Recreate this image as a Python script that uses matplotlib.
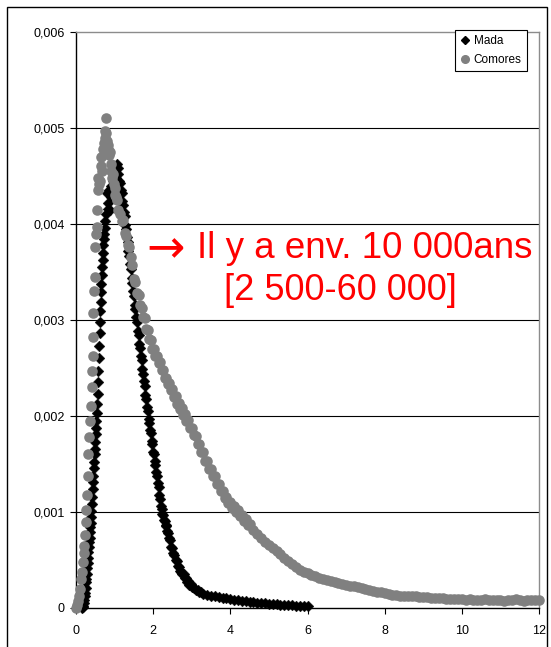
import matplotlib
matplotlib.use("Agg")
import matplotlib.pyplot as plt
from matplotlib.lines import Line2D
from matplotlib.patches import Rectangle
import numpy as np

plt.rcParams['font.family'] = ['Liberation Sans', 'DejaVu Sans']

# ---------------- data (y values in units of 1e-3) ----------------
mada_x = [
    0.15, 0.17, 0.19, 0.21, 0.22, 0.23, 0.24, 0.25, 0.26, 0.27, 0.28, 0.29, 0.30, 0.31, 0.32, 0.33,
    0.34, 0.35, 0.36, 0.37, 0.38, 0.39, 0.40, 0.41, 0.42, 0.43, 0.44, 0.45, 0.46, 0.47, 0.48, 0.49,
    0.50, 0.51, 0.52, 0.53, 0.54, 0.55, 0.56, 0.57, 0.58, 0.59, 0.60, 0.61, 0.62, 0.63, 0.64, 0.65,
    0.66, 0.67, 0.68, 0.69, 0.70, 0.71, 0.72, 0.73, 0.74, 0.76, 0.78, 0.80, 0.82, 0.84, 0.86, 0.88,
    0.90, 0.92, 0.94, 0.96, 0.98, 1.00, 1.02, 1.04, 1.06, 1.08,
    1.10, 1.12, 1.14, 1.16, 1.18, 1.20, 1.22, 1.24, 1.26, 1.28, 1.30, 1.32, 1.34, 1.36, 1.38, 1.40,
    1.42, 1.44, 1.46, 1.48, 1.50, 1.52, 1.54, 1.56, 1.58, 1.60, 1.62, 1.64, 1.66, 1.68, 1.70, 1.72,
    1.74, 1.76, 1.78, 1.80, 1.82, 1.84, 1.86, 1.88, 1.90, 1.92, 1.94, 1.96, 1.98, 2.00, 2.02, 2.04,
    2.06, 2.08, 2.10, 2.12, 2.14, 2.16, 2.18, 2.20, 2.22, 2.24, 2.26, 2.28, 2.30, 2.32, 2.34, 2.36,
    2.38, 2.40, 2.43, 2.46, 2.49, 2.52, 2.55, 2.58, 2.61, 2.64, 2.67, 2.70, 2.73, 2.76, 2.79, 2.82,
    2.85, 2.88, 2.91, 2.94, 2.97, 3.00, 3.05, 3.10, 3.15, 3.20, 3.25, 3.30, 3.40, 3.50, 3.60, 3.70,
    3.80, 3.90, 4.00, 4.10, 4.20, 4.30, 4.40, 4.50, 4.60, 4.70, 4.80, 4.90, 5.00, 5.10, 5.20, 5.30,
    5.40, 5.50, 5.60, 5.70, 5.80, 5.90, 6.00,
]
mada_y = [
    0.00, 0.01, 0.02, 0.05, 0.08, 0.12, 0.16, 0.21, 0.27, 0.30, 0.35, 0.42, 0.47, 0.52, 0.58, 0.64,
    0.69, 0.73, 0.79, 0.84, 0.89, 0.95, 1.01, 1.08, 1.16, 1.24, 1.31, 1.38, 1.46, 1.52, 1.60, 1.66,
    1.73, 1.81, 1.88, 1.95, 2.03, 2.12, 2.23, 2.35, 2.47, 2.60, 2.73, 2.86, 2.98, 3.09, 3.19, 3.29,
    3.38, 3.47, 3.55, 3.63, 3.70, 3.78, 3.84, 3.90, 3.96, 4.03, 4.10, 4.32, 4.16, 4.22, 4.35, 4.15,
    4.28, 4.40, 4.33, 4.45, 4.38, 4.50, 4.55, 4.48, 4.62, 4.58,
    4.52, 4.45, 4.43, 4.35, 4.32, 4.24, 4.20, 4.12, 4.08, 3.99, 3.95, 3.86, 3.81, 3.72, 3.67, 3.58,
    3.53, 3.44, 3.39, 3.30, 3.25, 3.16, 3.11, 3.03, 2.98, 2.89, 2.84, 2.75, 2.71, 2.62, 2.58, 2.49,
    2.44, 2.36, 2.31, 2.22, 2.18, 2.09, 2.05, 1.97, 1.93, 1.85, 1.82, 1.74, 1.71, 1.63, 1.60, 1.53,
    1.49, 1.42, 1.38, 1.30, 1.26, 1.18, 1.14, 1.06, 1.03, 0.98, 0.97, 0.92, 0.91, 0.86, 0.85, 0.80,
    0.78, 0.73, 0.71, 0.64, 0.62, 0.57, 0.55, 0.50, 0.49, 0.44, 0.43, 0.39, 0.38, 0.35, 0.35, 0.31,
    0.31, 0.27, 0.28, 0.24, 0.25, 0.22, 0.21, 0.19, 0.19, 0.17, 0.17, 0.15, 0.14, 0.13, 0.12, 0.11,
    0.10, 0.10, 0.09, 0.08, 0.08, 0.07, 0.07, 0.06, 0.06, 0.05, 0.05, 0.05, 0.04, 0.04, 0.04, 0.03,
    0.03, 0.03, 0.03, 0.02, 0.02, 0.02, 0.02,
]

comores_x = [
    0.01, 0.03, 0.05, 0.08, 0.10, 0.13, 0.15, 0.18, 0.20, 0.22, 0.24, 0.26, 0.27, 0.28, 0.30, 0.31,
    0.33, 0.36, 0.38, 0.41, 0.42, 0.43, 0.44, 0.45, 0.46, 0.48, 0.49, 0.52, 0.54, 0.55, 0.57, 0.58,
    0.60, 0.62, 0.64, 0.66, 0.68, 0.70, 0.72, 0.74, 0.76, 0.78, 0.79, 0.80, 0.82, 0.84, 0.86, 0.88,
    0.90, 0.92, 0.94, 0.96, 0.98, 1.00, 1.02, 1.04, 1.06,
    1.10, 1.14, 1.18, 1.22, 1.26, 1.30, 1.34, 1.38, 1.42, 1.46, 1.50, 1.54, 1.58, 1.62, 1.66, 1.70,
    1.74, 1.78, 1.82, 1.86, 1.90, 1.94, 1.98, 2.02, 2.06, 2.10, 2.14, 2.18, 2.22, 2.26, 2.30, 2.34,
    2.38, 2.42, 2.46, 2.50, 2.54, 2.58, 2.62, 2.66, 2.70, 2.74, 2.78, 2.82, 2.86, 2.90, 2.95, 3.00,
    3.05, 3.10, 3.15, 3.20, 3.25, 3.30, 3.35, 3.40, 3.45, 3.50, 3.55, 3.60, 3.65, 3.70, 3.75, 3.80,
    3.85, 3.90, 3.95, 4.00, 4.05, 4.10, 4.15, 4.20, 4.25, 4.30, 4.35, 4.40, 4.45, 4.50, 4.60, 4.70,
    4.80, 4.90, 5.00, 5.10, 5.20, 5.30, 5.40, 5.50, 5.60, 5.70, 5.80, 5.90, 6.00, 6.10, 6.20, 6.30,
    6.40, 6.50, 6.60, 6.70, 6.80, 6.90, 7.00, 7.10, 7.20, 7.30, 7.40, 7.50, 7.60, 7.70, 7.80, 7.90,
    8.00, 8.10, 8.20, 8.30, 8.40, 8.50, 8.60, 8.70, 8.80, 8.90, 9.00, 9.10, 9.20, 9.30, 9.40, 9.50,
    9.60, 9.70, 9.80, 9.90, 10.0, 10.1, 10.2, 10.3, 10.4, 10.5, 10.6, 10.7, 10.8, 10.9, 11.0, 11.1,
    11.2, 11.3, 11.4, 11.5, 11.6, 11.7, 11.8, 11.9, 12.0,
]
comores_y = [
    0.00, 0.03, 0.07, 0.13, 0.20, 0.30, 0.37, 0.48, 0.57, 0.65, 0.76, 0.90, 1.02, 1.18, 1.38, 1.60,
    1.78, 1.95, 2.10, 2.30, 2.47, 2.62, 2.82, 3.07, 3.30, 3.45, 3.76, 3.90, 3.97, 4.15, 4.35, 4.48,
    4.42, 4.45, 4.60, 4.70, 4.55, 4.78, 4.84, 4.90, 4.97, 5.10, 4.95, 4.86, 4.82, 4.78, 4.72, 4.75,
    4.62, 4.55, 4.48, 4.52, 4.42, 4.38, 4.30, 4.28, 4.25,
    4.15, 4.10, 4.03, 4.04, 3.91, 3.88, 3.78, 3.76, 3.66, 3.57, 3.43, 3.40, 3.28, 3.26, 3.16, 3.12,
    3.03, 3.02, 2.91, 2.90, 2.80, 2.79, 2.70, 2.70, 2.62, 2.62, 2.55, 2.56, 2.48, 2.48, 2.40, 2.40,
    2.33, 2.34, 2.27, 2.28, 2.20, 2.21, 2.13, 2.14, 2.07, 2.08, 2.01, 2.02, 1.95, 1.96, 1.88, 1.88,
    1.80, 1.79, 1.71, 1.71, 1.62, 1.62, 1.53, 1.53, 1.45, 1.45, 1.37, 1.37, 1.29, 1.29, 1.22, 1.22,
    1.15, 1.16, 1.09, 1.10, 1.04, 1.06, 1.00, 1.02, 0.96, 0.97, 0.91, 0.93, 0.86, 0.88, 0.81, 0.77,
    0.73, 0.69, 0.66, 0.62, 0.59, 0.56, 0.52, 0.49, 0.46, 0.43, 0.40, 0.38, 0.36, 0.34, 0.33, 0.31,
    0.30, 0.29, 0.28, 0.27, 0.26, 0.25, 0.24, 0.23, 0.23, 0.22, 0.21, 0.20, 0.19, 0.18, 0.17, 0.17,
    0.16, 0.15, 0.14, 0.14, 0.13, 0.13, 0.12, 0.12, 0.12, 0.11, 0.11, 0.11, 0.10, 0.10, 0.10, 0.10,
    0.09, 0.09, 0.09, 0.09, 0.09, 0.08, 0.09, 0.08, 0.08, 0.08, 0.09, 0.08, 0.08, 0.08, 0.08, 0.07,
    0.08, 0.08, 0.09, 0.08, 0.07, 0.08, 0.08, 0.08, 0.08,
]

series_names = ["Mada", "Comores"]
x_ticks = [0, 2, 4, 6, 8, 10, 12]
x_tick_labels = ["0", "2", "4", "6", "8", "10", "12"]
y_ticks = [0, 0.001, 0.002, 0.003, 0.004, 0.005, 0.006]
y_tick_labels = ["0", "0,001", "0,002", "0,003", "0,004", "0,005", "0,006"]
note_arrow = "\u2192"
note_line1 = "Il y a env. 10 000ans"
note_line2 = "[2 500-60 000]"

mada_vals = np.array(mada_y) * 1e-3
comores_vals = np.array(comores_y) * 1e-3

# ---------------- figure ----------------
W, H = 551, 647
fig = plt.figure(figsize=(W / 100, H / 100), dpi=100)
fig.patch.set_facecolor("white")

# outer chart border (bottom lies below the picture)
fig.patches.append(Rectangle((7 / W, -0.05), (547 - 7) / W, 1.05 - 7 / H,
                             transform=fig.transFigure, fill=False,
                             edgecolor="black", linewidth=1.0))

ax = fig.add_axes([76 / W, (647 - 608) / H, (539 - 76) / W, (608 - 32) / H])
ax.set_xlim(0, 12)
ax.set_ylim(0, 0.006)

for yv in y_ticks[1:-1]:
    ax.axhline(yv, color="black", linewidth=0.8, zorder=1)

ax.spines["top"].set_color("#8c8c8c")
ax.spines["right"].set_color("#8c8c8c")
ax.spines["left"].set_color("black")
ax.spines["bottom"].set_color("black")
for s in ax.spines.values():
    s.set_linewidth(1.0)

ax.scatter(mada_x, mada_vals, marker="D", s=30, color="black",
           linewidths=0.3, edgecolors="black", zorder=3, clip_on=False)
ax.scatter(comores_x, comores_vals, marker="o", s=58, color="#808080",
           linewidths=0, zorder=4, clip_on=False)

ax.set_xticks(x_ticks)
ax.set_xticklabels(x_tick_labels)
ax.set_yticks(y_ticks)
ax.set_yticklabels(y_tick_labels)
ax.tick_params(axis="both", direction="out", length=4, width=0.8,
               labelsize=9, colors="black", pad=3)
ax.tick_params(axis="x", pad=8)
ax.tick_params(axis="y", pad=4)

handles = [
    Line2D([], [], marker="D", linestyle="none", color="black", markersize=4.2),
    Line2D([], [], marker="o", linestyle="none", color="#808080", markersize=5.5),
]
leg = ax.legend(handles, series_names, loc="upper right",
                bbox_to_anchor=(0.974, 1.0035), borderaxespad=0,
                fancybox=False, edgecolor="black", framealpha=1,
                fontsize=8.5, handlelength=0.7, handletextpad=0.4,
                borderpad=0.45, labelspacing=0.55)
leg.get_frame().set_linewidth(0.8)
leg.set_zorder(10)

# annotation: arrow + two text lines (positions in axes fraction)
ax.text((146 - 76) / 463, (608 - 262) / 576, note_arrow, transform=ax.transAxes,
        ha="left", va="baseline", color="#ff0000", fontsize=33,
        family=["DejaVu Sans"], zorder=6)
ax.text((197 - 76) / 463, (608 - 258) / 576, note_line1, transform=ax.transAxes,
        ha="left", va="baseline", color="#ff0000", fontsize=26.5, zorder=6)
ax.text((340 - 76) / 463, (608 - 300) / 576, note_line2, transform=ax.transAxes,
        ha="center", va="baseline", color="#ff0000", fontsize=26, zorder=6)

fig.savefig("out.png", dpi=100, facecolor="white")
